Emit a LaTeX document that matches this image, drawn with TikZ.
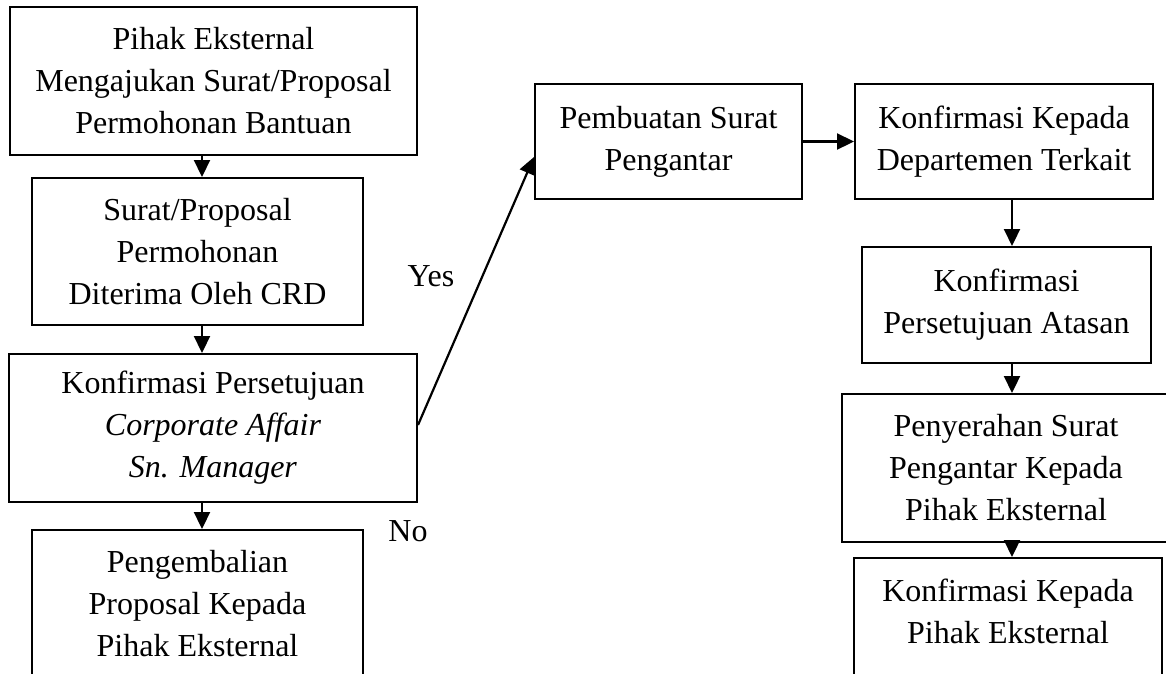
\documentclass[tikz,border=0pt]{standalone}
\usepackage{fontspec}
\setmainfont{Liberation Serif}
\usetikzlibrary{arrows.meta}
\begin{document}
\begin{tikzpicture}[x=1pt,y=-1pt,
  stepbox/.style={draw,rectangle,line width=2pt,inner sep=0pt,align=center,
    font=\fontsize{32}{42}\selectfont},
  arr/.style={line width=2.2pt,-{Triangle[length=17pt,width=16pt]}},
  lbl/.style={inner sep=0pt,font=\fontsize{32}{42}\selectfont}]
  \clip (0,0) rectangle (1166,673);
  \fill[white] (0,0) rectangle (1166,673);

  % left column
  \node[stepbox,minimum width=407pt,minimum height=148pt] (b1) at (213.5,81)
    {Pihak Eksternal\\Mengajukan Surat/Proposal\\Permohonan Bantuan};
  \node[stepbox,minimum width=331pt,minimum height=147pt] (b2) at (197.5,251.5)
    {Surat/Proposal\\Permohonan\\Diterima Oleh CRD};
  \node[stepbox,minimum width=408pt,minimum height=148pt] (b3) at (213,428)
    {Konfirmasi Persetujuan\\\textit{Corporate Affair}\\\textit{Sn. Manager}};
  \node[stepbox,minimum width=331pt,minimum height=148pt] (b4) at (197.5,604)
    {Pengembalian\\Proposal Kepada\\Pihak Eksternal};

  % right column
  \node[stepbox,minimum width=267pt,minimum height=115pt] (p1) at (668.5,141.5)
    {Pembuatan Surat\\Pengantar};
  \node[stepbox,minimum width=298pt,minimum height=115pt] (p2) at (1004,141.5)
    {Konfirmasi Kepada\\Departemen Terkait};
  \node[stepbox,minimum width=289pt,minimum height=116pt] (p3) at (1006.5,305)
    {Konfirmasi\\Persetujuan Atasan};
  \node[stepbox,minimum width=328pt,minimum height=148pt] (p4) at (1006,468)
    {Penyerahan Surat\\Pengantar Kepada\\Pihak Eksternal};
  \node[stepbox,minimum width=308pt,minimum height=148pt] (p5) at (1008,632)
    {Konfirmasi Kepada\\Pihak Eksternal\\\mbox{}};

  % decision labels
  \node[lbl] (lyes) at (431,276) {Yes};
  \node[lbl] (lno) at (408,531) {No};

  % connectors
  \coordinate (ax) at (202,0);
  \coordinate (bx) at (1012,0);
  \draw[arr] (b1.south -| ax) -- (b2.north -| ax);
  \draw[arr] (b2.south -| ax) -- (b3.north -| ax);
  \draw[arr] (b3.south -| ax) -- (b4.north -| ax);
  \draw[arr] ([yshift=3pt]b3.east) -- ([yshift=-15.5pt]p1.west);
  \draw[arr] (p1.east) -- (p2.west);
  \draw[arr] (p2.south -| bx) -- (p3.north -| bx);
  \draw[arr] (p3.south -| bx) -- (p4.north -| bx);
  \draw[arr] (p4.south -| bx) -- (p5.north -| bx);
\end{tikzpicture}
\end{document}
